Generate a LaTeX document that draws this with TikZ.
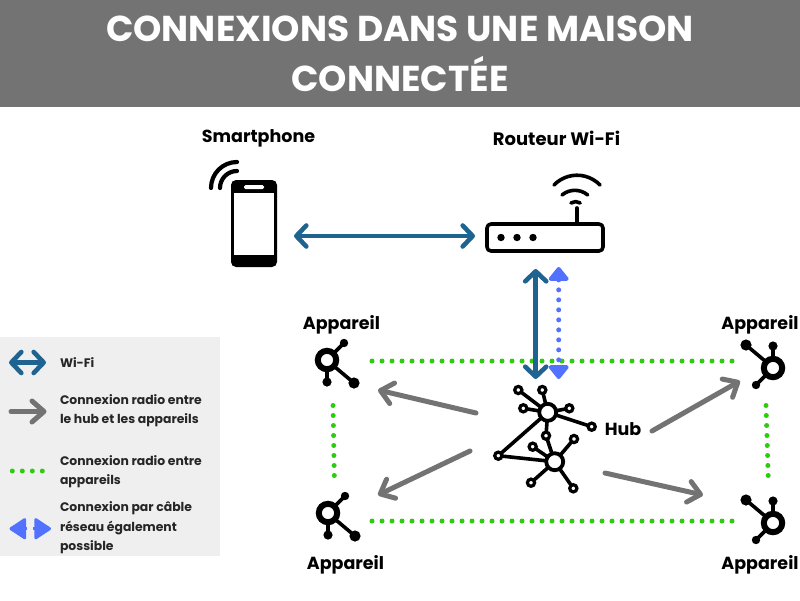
\documentclass[tikz,border=0pt]{standalone}
\usepackage{fontspec}
\setmainfont{Poppins}
\usetikzlibrary{arrows.meta}
\definecolor{wifiblue}{HTML}{1F6491}
\definecolor{radiogrey}{HTML}{737373}
\definecolor{radiogreen}{HTML}{2ECC0E}
\definecolor{cableblue}{HTML}{5271FF}
\definecolor{panelgrey}{HTML}{EFEFEF}

\begin{document}
\begin{tikzpicture}[
  x=1pt, y=-1pt,
  wifi/.style = {line width=4.6pt, color=wifiblue, line cap=round,
    {Straight Barb[length=10pt,width=21pt,round]}-{Straight Barb[length=10pt,width=21pt,round]}},
  radio/.style = {line width=5pt, color=radiogrey, line cap=round,
    -{Straight Barb[length=12pt,width=21pt,round]}},
  mesh/.style = {line width=5pt, color=radiogreen, line cap=round, dash pattern=on 0pt off 10pt},
  cable/.style = {line width=5pt, color=cableblue, line cap=round, dash pattern=on 0pt off 10pt,
    {Triangle[length=15pt,width=23pt,round]}-{Triangle[length=15pt,width=23pt,round]}},
  cablehead/.style = {line width=3pt, color=cableblue,
    -{Triangle[length=18pt,width=23pt,round]}},
  title/.style = {text=white, font=\bfseries\fontsize{36}{50}\selectfont, align=center},
  label/.style = {font=\bfseries\fontsize{17.5}{20}\selectfont},
  legend/.style = {anchor=west, align=left, font=\bfseries\fontsize{12.4}{19.5}\selectfont, text=black!85},
  icon/.style = {line width=3.6pt, line cap=round, line join=round},
  device/.pic = {
    \draw[line width=6pt] (0,0) circle[radius=9.2pt];
    \draw[line width=3.6pt] (7,-7) -- (17,-17) (0,10) -- (0,22) (8,7) -- (27,23);
    \fill (17,-17) circle[radius=4.2pt] (0,22) circle[radius=4.6pt] (27,23) circle[radius=5.6pt];
  },
]
  \useasboundingbox (0,0) rectangle (800,600);

  \fill[radiogrey] (0,0) rectangle (800,107);
  \fill[panelgrey] (0,337) rectangle (220,556);
  \node[title] (heading) at (400,53.5) {CONNEXIONS DANS UNE MAISON\\CONNECTÉE};

  % phone
  \fill[rounded corners=5pt] (231,180) rectangle (277,267);
  \fill[white] (234,193) rectangle (274,255);
  \fill[white, rounded corners=1.5pt] (244,185) rectangle (264,189);
  \draw[icon, line width=4.2pt] (211,188) arc[start angle=180, end angle=90, radius=26pt];
  \draw[icon, line width=4.2pt] (220,188) arc[start angle=180, end angle=90, radius=17pt];

  % router
  \draw[icon, rounded corners=4pt] (487,224) rectangle (603,251);
  \foreach \px in {501,517,533} \fill (\px,237.5) circle[radius=3.7pt];
  \draw[icon] (577,208) -- (577,224);
  \draw[icon] (554,185) arc[start angle=136, end angle=44, radius=32pt];
  \draw[icon] (562,195) arc[start angle=130, end angle=50, radius=20pt];
  \draw[icon] (571,203) arc[start angle=125, end angle=55, radius=8pt];

  % hub
  \coordinate (h1) at (547.7,412.3);
  \coordinate (h2) at (554.7,461.7);
  \foreach \px/\py in {518.3/390,542.3/390,523.3/408.3,569.3/408.3,591.7/426.7,546/435.7,498.3/455.7}
    \draw[icon] (h1) -- (\px,\py);
  \foreach \px/\py in {532.7/446.7,574/439,531/482.7,573.3/488.3,546/435.7,498.3/455.7}
    \draw[icon] (h2) -- (\px,\py);
  \foreach \px/\py in {518.3/390,542.3/390,523.3/408.3,569.3/408.3,591.7/426.7,546/435.7,498.3/455.7,532.7/446.7,574/439,531/482.7,573.3/488.3}
    \draw[line width=3.2pt, fill=white] (\px,\py) circle[radius=3.6pt];
  \draw[line width=3.8pt, fill=white] (h1) circle[radius=8.5pt];
  \draw[line width=3.8pt, fill=white] (h2) circle[radius=8.5pt];

  % devices
  \pic at (327,360) {device};
  \pic at (328,513) {device};
  \pic[rotate=180] at (773,368) {device};
  \pic[rotate=180] at (773,523) {device};

  % labels
  \node[label] (smartphone) at (258.5,138.5) {Smartphone};
  \node[label, font=\bfseries\fontsize{18}{20}\selectfont] (routeur) at (556.5,138.5) {Routeur Wi-Fi};
  \node[label] (app1) at (341.5,324.5) {Appareil};
  \node[label] (app2) at (760,324.5) {Appareil};
  \node[label] (app3) at (345.5,564.5) {Appareil};
  \node[label] (app4) at (760,564.5) {Appareil};
  \node[label] (hub) at (623,429.5) {Hub};

  % connections
  \coordinate (w1) at (294,236);
  \coordinate (w2) at (475,236);
  \coordinate (w3) at (535.7,269);
  \coordinate (w4) at (535.7,379);
  \coordinate (c1) at (558.7,267);
  \coordinate (c2) at (558.7,379);
  \draw[wifi] (w1) -- (w2);
  \draw[mesh] (372,361) -- (737,361);
  \draw[mesh] (372,521) -- (737,521);
  \draw[mesh] (333,405.5) -- (334.5,485);
  \draw[mesh] (766,405.5) -- (768.5,485);
  \draw[wifi] (w3) -- (w4);
  \draw[cable] (c1) -- (c2);

  \coordinate (r1) at (476,413);
  \coordinate (r2) at (378,390);
  \coordinate (r3) at (470,451);
  \coordinate (r4) at (378,495);
  \coordinate (r5) at (652,431);
  \coordinate (r6) at (740,381);
  \coordinate (r7) at (605,473);
  \coordinate (r8) at (703,495);
  \draw[radio] (r1) -- (r2);
  \draw[radio] (r3) -- (r4);
  \draw[radio] (r5) -- (r6);
  \draw[radio] (r7) -- (r8);

  % legend
  \coordinate (l1) at (9,362.5);
  \coordinate (l2) at (46,362.5);
  \coordinate (l3) at (11,411.5);
  \coordinate (l4) at (46.5,411.5);
  \coordinate (l5) at (27,528.7);
  \coordinate (l6) at (9.5,528.7);
  \coordinate (l7) at (33,528.7);
  \coordinate (l8) at (51,528.7);
  \draw[wifi] (l1) -- (l2);
  \draw[radio] (l3) -- (l4);
  \foreach \px in {12.3,22.3,32.3,42.3} \fill[radiogreen] (\px,471) circle[radius=2.5pt];
  \draw[cablehead] (l5) -- (l6);
  \draw[cablehead] (l7) -- (l8);
  \node[legend] (t1) at (56.5,362.5) {Wi-Fi};
  \node[legend] (t2) at (56.5,410.5) {Connexion radio entre\\le hub et les appareils};
  \node[legend] (t3) at (56.5,471.5) {Connexion radio entre\\appareils};
  \node[legend] (t4) at (56.5,528) {Connexion par câble\\réseau également\\possible};
\end{tikzpicture}
\end{document}
